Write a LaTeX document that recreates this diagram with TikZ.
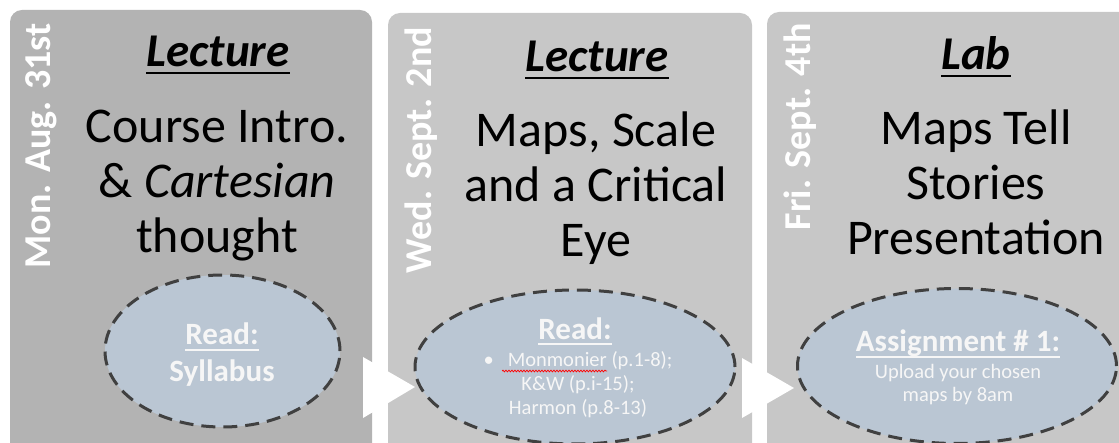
\documentclass[tikz,border=0pt]{standalone}
\usepackage{fontspec}
\setmainfont{Carlito}
\usetikzlibrary{shapes.geometric,decorations.pathmorphing}
\definecolor{boxA}{RGB}{179,179,179}
\definecolor{boxB}{RGB}{199,199,199}
\definecolor{ellfill}{RGB}{186,198,211}
\definecolor{dashc}{RGB}{64,64,64}
\definecolor{softwhite}{RGB}{246,246,246}
\newsavebox\ulsave
\newcommand{\ulx}[3]{\sbox\ulsave{#3}\rlap{\rule[#1]{\wd\ulsave}{#2}}\usebox\ulsave}
\begin{document}
\begin{tikzpicture}[x=1pt,y=-1pt,
  panel/.style={rounded corners=12pt},
  head/.style={anchor=base, inner sep=0, font=\fontsize{47}{52}\selectfont\bfseries\itshape},
  title/.style={anchor=base, inner sep=0, align=center, font=\fontsize{50}{55}\selectfont},
  date/.style={anchor=base east, rotate=90, inner sep=0, text=white, font=\fontsize{38}{44}\selectfont\bfseries},
  bubble/.style={ellipse, draw=dashc, line width=3pt, dash pattern=on 14pt off 8pt, fill=ellfill, inner sep=0},
  btext/.style={anchor=base, inner sep=0, align=center, text=softwhite},
  bighead/.style={btext, font=\fontsize{31}{37}\selectfont\bfseries},
  small/.style={btext, font=\fontsize{20.5}{24}\selectfont},
  flow/.style={fill=white},
]
\useasboundingbox (0,0) rectangle (1119,443);
% panels
\fill[boxA, panel] (10,10) rectangle (372,480);
\fill[boxB, panel] (388,13) rectangle (752,480);
\fill[boxB, panel] (767,12) rectangle (1140,480);
% flow arrows
\coordinate (a1t) at (363,357); \coordinate (a1b) at (363,418); \coordinate (a1p) at (415,387);
\coordinate (a2t) at (742,358); \coordinate (a2b) at (742,418); \coordinate (a2p) at (794,388);
\fill[flow] (a1t) -- (a1p) -- (a1b) -- cycle;
\fill[flow] (a2t) -- (a2p) -- (a2b) -- cycle;
% dates
\node[date] (d1) at (50,23) {Mon. Aug. 31st};
\node[date] (d2) at (431,27) {Wed. Sept. 2nd};
\node[date] (d3) at (810,23) {Fri. Sept. 4th};
% headings
\node[head] (h1) at (218,67) {\ulx{-7.5pt}{2.5pt}{Lecture}};
\node[head] (h2) at (597,72) {\ulx{-7.5pt}{2.5pt}{Lecture}};
\node[head] (h3) at (976,70) {\ulx{-7.5pt}{2.5pt}{Lab}};
% titles (base anchor = last line)
\node[title] (t1) at (217,253) {Course Intro.\\\& \textit{Cartesian}\\thought};
\node[title] (t2) at (596,257) {Maps, Scale\\and a Critical\\Eye};
\node[title] (t3) at (976,255) {Maps Tell\\Stories\\Presentation};
% bubbles
\node[bubble, minimum width=235pt, minimum height=152pt] (e1) at (222.5,351) {};
\node[bubble, minimum width=320pt, minimum height=154pt] (e2) at (575,367) {};
\node[bubble, minimum width=319pt, minimum height=155pt] (e3) at (957,366) {};
% bubble texts
\node[bighead] (r1) at (222,382) {\ulx{-5.5pt}{1.6pt}{Read:}\\Syllabus};
\node[bighead] (r2) at (575,340) {\ulx{-5pt}{1.6pt}{Read:}};
\node[small] (l2) at (578,414) {\textbullet\hspace{14pt}Monmonier (p.1-8);\\K\&W (p.i-15);\\Harmon (p.8-13)};
\coordinate (sp1) at (502,371); \coordinate (sp2) at (607,371);
\draw[red, line width=0.7pt, decorate, decoration={snake, amplitude=0.9pt, segment length=3pt}] (sp1) -- (sp2);
\node[bighead] (r3) at (958,352) {\ulx{-6pt}{1.6pt}{Assignment \# 1:}};
\node[small] (l3) at (958,402) {Upload your chosen\\maps by 8am};
\end{tikzpicture}
\end{document}
